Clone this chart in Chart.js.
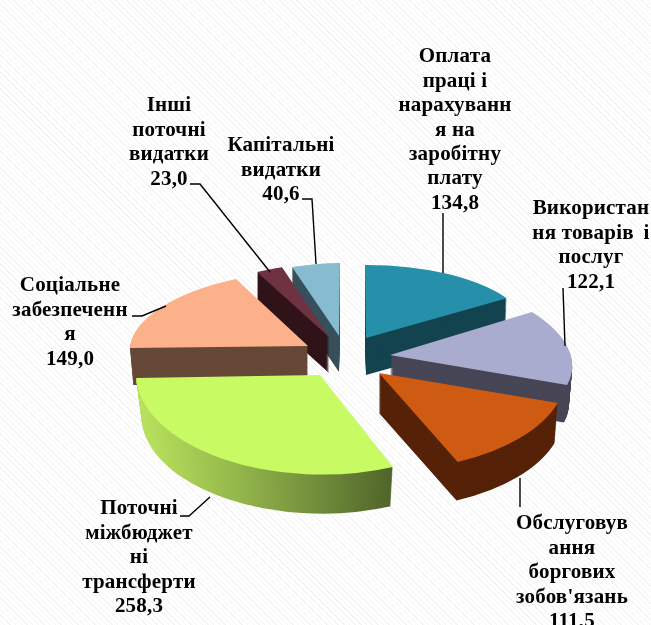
<!DOCTYPE html>
<html>
<head>
<meta charset="utf-8">
<script src="https://cdn.jsdelivr.net/npm/chart.js@4/dist/chart.umd.min.js"></script>
<style>
html, body { margin: 0; padding: 0; }
body {
    width: 651px; height: 625px; overflow: hidden;
    background: repeating-linear-gradient(45deg, #ffffff 0 3px, #f4f4f4 3px 4px);
}
canvas { display: block; }
</style>
</head>
<body>
<canvas id="pieChart" width="651" height="625"></canvas>
<script>
// values, clockwise from 12 o'clock
const labelLines = [
    ['Оплата', 'праці і', 'нарахуванн', 'я на', 'заробітну', 'плату'],
    ['Використан', 'ня товарів\u2009 і', 'послуг'],
    ['Обслуговув', 'ання', 'боргових', "зобов'язань"],
    ['Поточні', 'міжбюджет', 'ні', 'трансферти'],
    ['Соціальне', 'забезпеченн', 'я'],
    ['Інші', 'поточні', 'видатки'],
    ['Капітальні', 'видатки']
];
const values = [134.8, 122.1, 111.5, 258.3, 149.0, 23.0, 40.6];

const topColors = ['#2690ab', '#aaaccf', '#cf5a12', '#c8fb63', '#fdb18b', '#6f3240', '#86bbd0'];
const sideColors = ['#13444f', '#474656', '#552208', null, '#654836', '#2f1318', '#37505b'];

// fake 3d: canvas matrix of each slice (a, b, c, d) and where its apex lands
const sliceMatrix = [
    [167, -1, 1, 73],
    [181, 1.5, 21, 83],
    [187, -4, 9.4, 97.6],
    [184, -1, 4.3, 99.6],
    [178, -0.5, -10.8, 75.6],
    [157, 0, 0, 73],
    [160, -2, -1, 73]
];
const sliceApex = [[366, 338], [390, 355], [379, 373], [320, 375], [308, 346], [329, 337], [339, 336]];
const sliceDepth = [37, 38, 40, 42, 37, 36, 36];
const sideShrink = [0.01, 0.018, 0.016, 0.03, 0.019, 0, 0];
const drawOrder = [6, 5, 4, 0, 1, 2, 3];

// label centre x, first line y
const labelPlace = [[455, 57], [591, 209], [572, 524], [139, 509], [70, 286], [169, 106], [281, 146]];
const leaderLines = [
    [[443, 213], [443, 273]],
    [[563, 288], [565, 346]],
    [[520, 478], [520, 507]],
    [[180, 516], [189, 516], [210, 497]],
    [[132, 316], [142, 316], [166, 306]],
    [[190, 184], [200, 184], [270, 272]],
    [[302, 199], [312, 199], [316, 264]]
];

const pie3d = {
    id: 'pie3d',
    beforeDatasetDraw(chart, args) {
        const ctx = chart.ctx;
        const arcs = chart.getDatasetMeta(args.index).data;
        drawOrder.forEach(i => {
            const arc = arcs[i];
            const [a, b, c, d] = sliceMatrix[i];
            const [ax, ay] = sliceApex[i];
            const topOptions = arc.options;
            for (let h = sliceDepth[i]; h >= 0; h--) {
                const k = (1 - sideShrink[i] * h / sliceDepth[i]) / 100;
                ctx.save();
                ctx.transform(a * k, b * k, c * k, d * k, ax, ay + h);
                ctx.translate(-arc.x, -arc.y);
                let fill = topColors[i];
                if (h > 0) {
                    fill = sideColors[i];
                    if (!fill) {
                        fill = ctx.createLinearGradient(arc.x - 97, 0, arc.x + 38, 0);
                        fill.addColorStop(0, '#b8e05c');
                        fill.addColorStop(0.35, '#96b94c');
                        fill.addColorStop(1, '#4f642a');
                    }
                }
                arc.options = Object.assign({}, topOptions, { backgroundColor: fill });
                arc.draw(ctx);
                ctx.restore();
            }
            arc.options = topOptions;
        });
        return false;
    },
    afterDraw(chart) {
        const ctx = chart.ctx;
        ctx.save();
        ctx.strokeStyle = '#000';
        ctx.lineWidth = 1.4;
        leaderLines.forEach(pts => {
            ctx.beginPath();
            pts.forEach((p, n) => n ? ctx.lineTo(p[0], p[1]) : ctx.moveTo(p[0], p[1]));
            ctx.stroke();
        });
        ctx.fillStyle = '#000';
        ctx.font = 'bold 21px "Liberation Serif"';
        ctx.letterSpacing = '0.2px';
        ctx.textAlign = 'center';
        ctx.textBaseline = 'middle';
        labelLines.forEach((lines, i) => {
            const [x, y] = labelPlace[i];
            const text = lines.concat(values[i].toFixed(1).replace('.', ','));
            text.forEach((t, n) => ctx.fillText(t, x, y + n * 24.4));
        });
        ctx.restore();
    }
};

new Chart(document.getElementById('pieChart'), {
    type: 'pie',
    data: {
        labels: labelLines.map(l => l.join(' ')),
        datasets: [{
            data: values,
            backgroundColor: topColors,
            borderWidth: 0,
            radius: 100
        }]
    },
    options: {
        responsive: false,
        animation: false,
        plugins: { legend: { display: false }, tooltip: { enabled: false } }
    },
    plugins: [pie3d]
});
</script>
</body>
</html>
